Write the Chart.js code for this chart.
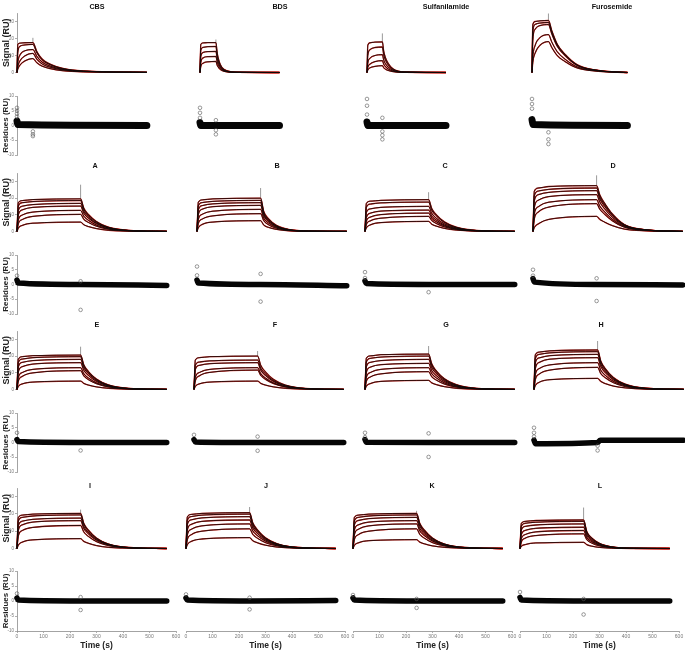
<!DOCTYPE html>
<html>
<head>
<meta charset="utf-8">
<script src="https://cdn.jsdelivr.net/npm/chart.js@4.4.0/dist/chart.umd.min.js"></script>
<style>
  html, body { margin: 0; padding: 0; background: #fff; }
  body { width: 685px; height: 651px; overflow: hidden; position: relative; font-family: "Liberation Sans", Arial, sans-serif; }
  .box { position: absolute; }
  .lbl { position: absolute; transform: translate(-50%, -50%); font-weight: bold; font-size: 7.2px; color: #111; white-space: nowrap; line-height: 1; }
</style>
</head>
<body>
<script>
// ---- data ----

const panelTitles = [`CBS`, `BDS`, `Sulfanilamide`, `Furosemide`, `A`, `B`, `C`, `D`, `E`, `F`, `G`, `H`, `I`, `J`, `K`, `L`];
const signalTicks = [0, 10, 20, 30];
const residueTicks = [-10, -5, 0, 5, 10];
const timeTicks = [0, 100, 200, 300, 400, 500, 600];

// time knots (s) of the sensorgrams
const tCBS = [0, 3, 12, 30, 60, 75, 95, 125, 170, 250, 490];
const tBDS = [0, 3, 12, 30, 60, 65, 72, 82, 100, 140, 300];
const tSulf = [0, 3, 12, 30, 58, 63, 70, 80, 98, 140, 298];
const tFuro = [0, 3, 12, 30, 62, 75, 95, 125, 170, 250, 360];
const tLong = [0, 5, 20, 60, 240, 252, 270, 300, 345, 420, 565];

// signal (RU), one row per concentration
const sigCBS = [
  [0, 16.5, 17.3, 17.5, 17.6, 12.3, 7.9, 4.9, 2.5, 0.9, 0.1],
  [0, 12, 15.5, 16.2, 16.5, 11.6, 7.4, 4.6, 2.3, 0.8, 0.1],
  [0, 6, 10.5, 12.8, 13.5, 9.5, 6.1, 3.8, 1.9, 0.7, 0.1],
  [0, 3.5, 7, 9.8, 11.2, 7.8, 5.0, 3.1, 1.6, 0.6, 0.1],
  [0, 2, 4.5, 6.8, 8.2, 5.7, 3.7, 2.3, 1.1, 0.4, 0.1],
];
const sigBDS = [
  [0, 16.5, 17.4, 17.6, 17.6, 11.4, 6.7, 3.2, 1.1, 0.2, 0],
  [0, 13, 14.8, 15.2, 15.3, 9.9, 5.8, 2.8, 0.9, 0.2, 0],
  [0, 9.5, 11.8, 12.3, 12.4, 8.1, 4.7, 2.2, 0.7, 0.1, 0],
  [0, 6, 8.6, 9.3, 9.4, 6.1, 3.6, 1.7, 0.6, 0.1, 0],
  [0, 3.5, 5.5, 6.3, 6.5, 4.2, 2.5, 1.2, 0.4, 0.1, 0],
];
const sigSulf = [
  [0, 16, 17.5, 17.9, 18, 12.6, 8.6, 5.4, 2.2, 0.4, 0],
  [0, 10, 13.5, 14.7, 15, 10.5, 7.2, 4.5, 1.8, 0.3, 0],
  [0, 5.5, 8.5, 10, 10.5, 7.4, 5.0, 3.2, 1.3, 0.2, 0],
  [0, 3, 5, 6.4, 7, 4.9, 3.4, 2.1, 0.8, 0.1, 0],
  [0, 1.5, 2.8, 3.6, 4, 2.8, 1.9, 1.2, 0.5, 0.1, 0],
];
const sigFuro = [
  [0, 28, 30, 30.4, 30.6, 24.5, 16.8, 10.7, 4.6, 1.2, 0],
  [0, 24, 28.3, 29.1, 29.4, 23.5, 16.2, 10.3, 4.4, 1.2, 0],
  [0, 19, 25.5, 27.6, 28.2, 22.6, 15.5, 9.9, 4.2, 1.1, 0],
  [0, 9, 16, 20.5, 22.3, 17.8, 12.3, 7.8, 3.3, 0.9, 0],
  [0, 6, 11.5, 16, 18.2, 14.6, 10.0, 6.4, 2.7, 0.7, 0],
];
const sigA = [
  [0, 17.2, 18.5, 19.1, 19.5, 14.0, 10.1, 5.9, 2.5, 0.6, 0],
  [0, 15.2, 17.2, 17.9, 18.5, 13.3, 9.6, 5.6, 2.4, 0.6, 0],
  [0, 12.6, 15.1, 16.1, 16.8, 12.1, 8.7, 5.0, 2.2, 0.5, 0],
  [0, 9.9, 12.9, 14.4, 15.2, 10.9, 7.9, 4.6, 2.0, 0.5, 0],
  [0, 6.9, 9.8, 11.6, 12.6, 9.1, 6.6, 3.8, 1.6, 0.4, 0],
  [0, 4.6, 7.1, 9.0, 10.2, 7.3, 5.3, 3.1, 1.3, 0.3, 0],
  [0, 2.0, 3.6, 4.9, 5.6, 4.0, 2.9, 1.7, 0.7, 0.2, 0],
];
const sigB = [
  [0, 17.5, 18.9, 19.5, 19.9, 11.9, 7.6, 3.6, 1.2, 0.2, 0],
  [0, 15.3, 17.3, 18.0, 18.6, 11.2, 7.1, 3.3, 1.1, 0.2, 0],
  [0, 12.9, 15.5, 16.5, 17.2, 10.3, 6.5, 3.1, 1.0, 0.2, 0],
  [0, 10.1, 13.3, 14.8, 15.6, 9.4, 5.9, 2.8, 0.9, 0.2, 0],
  [0, 7.3, 10.3, 12.1, 13.2, 7.9, 5.0, 2.4, 0.8, 0.1, 0],
  [0, 4.8, 7.4, 9.3, 10.6, 6.4, 4.0, 1.9, 0.6, 0.1, 0],
  [0, 2.2, 4.2, 5.6, 6.4, 3.8, 2.4, 1.2, 0.4, 0.1, 0],
];
const sigC = [
  [0, 16.7, 18.1, 18.6, 19.0, 13.7, 9.9, 5.7, 2.5, 0.6, 0],
  [0, 14.4, 16.4, 17.1, 17.6, 12.7, 9.2, 5.3, 2.3, 0.5, 0],
  [0, 11.3, 13.5, 14.4, 15.0, 10.8, 7.8, 4.5, 2.0, 0.5, 0],
  [0, 8.3, 10.9, 12.2, 12.8, 9.2, 6.7, 3.8, 1.7, 0.4, 0],
  [0, 6.1, 8.6, 10.1, 11.0, 7.9, 5.7, 3.3, 1.4, 0.3, 0],
  [0, 4.1, 6.3, 7.9, 9.0, 6.5, 4.7, 2.7, 1.2, 0.3, 0],
  [0, 2.1, 3.9, 5.3, 6.0, 4.3, 3.1, 1.8, 0.8, 0.2, 0],
];
const sigD = [
  [0, 24.1, 26.0, 26.9, 27.4, 21.9, 17.0, 10.4, 4.1, 1.1, 0],
  [0, 21.3, 24.2, 25.2, 26.0, 20.8, 16.1, 9.9, 3.9, 1.0, 0],
  [0, 18.3, 22.0, 23.4, 24.4, 19.5, 15.1, 9.3, 3.7, 1.0, 0],
  [0, 14.3, 18.7, 20.9, 22.0, 17.6, 13.6, 8.4, 3.3, 0.9, 0],
  [0, 10.5, 14.8, 17.5, 19.0, 15.2, 11.8, 7.2, 2.9, 0.8, 0],
  [0, 7.5, 11.6, 14.6, 16.6, 13.3, 10.3, 6.3, 2.5, 0.7, 0],
  [0, 2.3, 4.5, 7.2, 9.0, 7.2, 5.6, 3.4, 1.4, 0.4, 0],
];
const sigE = [
  [0, 18.1, 19.6, 20.2, 20.6, 14.8, 10.7, 6.2, 2.7, 0.6, 0],
  [0, 16.1, 18.2, 19.0, 19.6, 14.1, 10.2, 5.9, 2.5, 0.6, 0],
  [0, 13.5, 16.2, 17.3, 18.0, 13.0, 9.4, 5.4, 2.3, 0.5, 0],
  [0, 10.4, 13.6, 15.2, 16.0, 11.5, 8.3, 4.8, 2.1, 0.5, 0],
  [0, 7.2, 10.1, 12.0, 13.0, 9.4, 6.8, 3.9, 1.7, 0.4, 0],
  [0, 5.0, 7.8, 9.9, 11.2, 8.1, 5.8, 3.4, 1.5, 0.3, 0],
  [0, 1.8, 3.3, 4.4, 5.0, 3.6, 2.6, 1.5, 0.7, 0.2, 0],
];
const sigF = [
  [0, 17.6, 19.0, 19.6, 20.0, 14.4, 10.4, 6.0, 2.6, 0.6, 0],
  [0, 14.4, 16.4, 17.1, 17.6, 12.7, 9.2, 5.3, 2.3, 0.5, 0],
  [0, 12.0, 14.4, 15.4, 16.0, 11.5, 8.3, 4.8, 2.1, 0.5, 0],
  [0, 7.2, 10.1, 12.0, 13.0, 9.4, 6.8, 3.9, 1.7, 0.4, 0],
  [0, 5.2, 8.1, 10.2, 11.6, 8.4, 6.0, 3.5, 1.5, 0.3, 0],
  [0, 1.8, 3.3, 4.4, 5.0, 3.6, 2.6, 1.5, 0.7, 0.2, 0],
];
const sigG = [
  [0, 18.7, 20.1, 20.8, 21.2, 15.3, 11.0, 6.4, 2.8, 0.6, 0],
  [0, 16.4, 18.6, 19.4, 20.0, 14.4, 10.4, 6.0, 2.6, 0.6, 0],
  [0, 13.5, 16.2, 17.3, 18.0, 13.0, 9.4, 5.4, 2.3, 0.5, 0],
  [0, 10.1, 13.3, 14.8, 15.6, 11.2, 8.1, 4.7, 2.0, 0.5, 0],
  [0, 7.2, 10.1, 12.0, 13.0, 9.4, 6.8, 3.9, 1.7, 0.4, 0],
  [0, 4.8, 7.4, 9.3, 10.6, 7.6, 5.5, 3.2, 1.4, 0.3, 0],
  [0, 1.9, 3.5, 4.8, 5.4, 3.9, 2.8, 1.6, 0.7, 0.2, 0],
];
const sigH = [
  [0, 20.8, 22.4, 23.1, 23.6, 17.0, 12.3, 7.1, 3.1, 0.7, 0],
  [0, 18.5, 21.0, 21.9, 22.6, 16.3, 11.8, 6.8, 2.9, 0.7, 0],
  [0, 15.8, 18.9, 20.2, 21.0, 15.1, 10.9, 6.3, 2.7, 0.6, 0],
  [0, 12.4, 16.2, 18.1, 19.0, 13.7, 9.9, 5.7, 2.5, 0.6, 0],
  [0, 8.8, 12.5, 14.7, 16.0, 11.5, 8.3, 4.8, 2.1, 0.5, 0],
  [0, 5.9, 9.2, 11.6, 13.2, 9.5, 6.9, 4.0, 1.7, 0.4, 0],
  [0, 2.3, 4.3, 5.8, 6.6, 4.8, 3.4, 2.0, 0.9, 0.2, 0],
];
const sigI = [
  [0, 17.9, 19.3, 19.9, 20.3, 14.6, 10.6, 6.1, 2.6, 0.6, 0],
  [0, 15.9, 18.0, 18.8, 19.4, 14.0, 10.1, 5.8, 2.5, 0.6, 0],
  [0, 13.2, 15.8, 16.9, 17.6, 12.7, 9.2, 5.3, 2.3, 0.5, 0],
  [0, 10.5, 13.7, 15.3, 16.1, 11.6, 8.4, 4.8, 2.1, 0.5, 0],
  [0, 7.3, 10.4, 12.2, 13.3, 9.6, 6.9, 4.0, 1.7, 0.4, 0],
  [0, 2.0, 3.7, 5.0, 5.7, 4.1, 3.0, 1.7, 0.7, 0.2, 0],
];
const sigJ = [
  [0, 18.2, 19.7, 20.3, 20.7, 14.9, 10.8, 6.2, 2.7, 0.6, 0],
  [0, 16.3, 18.5, 19.3, 19.9, 14.3, 10.3, 6.0, 2.6, 0.6, 0],
  [0, 13.8, 16.6, 17.7, 18.4, 13.2, 9.6, 5.5, 2.4, 0.6, 0],
  [0, 10.7, 14.0, 15.7, 16.5, 11.9, 8.6, 5.0, 2.1, 0.5, 0],
  [0, 7.8, 11.1, 13.1, 14.2, 10.2, 7.4, 4.3, 1.8, 0.4, 0],
  [0, 5.1, 8.0, 10.0, 11.4, 8.2, 5.9, 3.4, 1.5, 0.3, 0],
  [0, 2.2, 4.1, 5.5, 6.3, 4.5, 3.3, 1.9, 0.8, 0.2, 0],
];
const sigK = [
  [0, 17.9, 19.3, 19.9, 20.3, 14.6, 10.6, 6.1, 2.6, 0.6, 0],
  [0, 15.9, 18.0, 18.8, 19.4, 14.0, 10.1, 5.8, 2.5, 0.6, 0],
  [0, 13.5, 16.2, 17.3, 18.0, 13.0, 9.4, 5.4, 2.3, 0.5, 0],
  [0, 10.5, 13.7, 15.3, 16.1, 11.6, 8.4, 4.8, 2.1, 0.5, 0],
  [0, 7.8, 11.1, 13.1, 14.2, 10.2, 7.4, 4.3, 1.8, 0.4, 0],
  [0, 5.1, 8.0, 10.0, 11.4, 8.2, 5.9, 3.4, 1.5, 0.3, 0],
  [0, 1.8, 3.3, 4.5, 5.1, 3.7, 2.7, 1.5, 0.7, 0.2, 0],
];
const sigL = [
  [0, 14.5, 15.7, 16.2, 16.5, 9.9, 6.3, 3.0, 1.0, 0.2, 0],
  [0, 12.9, 14.6, 15.2, 15.7, 9.4, 6.0, 2.8, 0.9, 0.2, 0],
  [0, 10.7, 12.8, 13.6, 14.2, 8.5, 5.4, 2.6, 0.9, 0.1, 0],
  [0, 8.0, 10.5, 11.7, 12.3, 7.4, 4.7, 2.2, 0.7, 0.1, 0],
  [0, 5.7, 8.1, 9.6, 10.4, 6.2, 4.0, 1.9, 0.6, 0.1, 0],
  [0, 3.8, 6.0, 7.5, 8.5, 5.1, 3.2, 1.5, 0.5, 0.1, 0],
  [0, 1.3, 2.3, 3.2, 3.6, 2.2, 1.4, 0.6, 0.2, 0, 0],
];

// injection-end spike: [time, from RU, to RU]
const spikes = [
  [60, 17.6, 20.4], [60, 17.6, 19.4], [58, 18, 23], [62, 30.6, 34.7],
  [240, 19.5, 28], [240, 19.9, 26], [240, 19, 23.5], [240, 27.4, 33.6],
  [240, 20.6, 25.6], [240, 20, 23], [240, 21.2, 26], [240, 23.6, 29],
  [240, 20.3, 22.5], [240, 20.7, 24], [240, 20.3, 21.8], [240, 16.5, 23.7],
];

// residue band (dense points around zero): [time, RU]
const bandCBS = [[0, 1.5], [3, 0.3], [490, 0]];
const bandBDS = [[0, 1], [3, 0], [300, 0]];
const bandSulf = [[0, 1.2], [3, 0], [298, 0]];
const bandFuro = [[0, 2], [4, 0.3], [360, 0]];
const bandA = [[0, 1.5], [5, 0.5], [240, 0], [565, -0.3]];
const bandB = [[0, 1.5], [5, 0.5], [240, 0], [565, -0.4]];
const bandC = [[0, 1.2], [5, 0.3], [240, 0], [565, 0]];
const bandD = [[0, 2], [6, 0.8], [240, 0], [565, -0.2]];
const bandE = [[0, 1], [5, 0.3], [240, 0], [565, 0]];
const bandF = [[0, 1], [5, 0.2], [240, 0], [565, 0]];
const bandG = [[0, 1], [5, 0.1], [240, 0], [565, 0]];
const bandH = [[0, 0.8], [6, -0.4], [240, 0], [250, 0.8], [565, 0.8]];
const bandI = [[0, 1], [5, 0.3], [240, 0], [565, 0]];
const bandJ = [[0, 1], [5, 0.3], [240, 0], [565, 0.2]];
const bandK = [[0, 1], [5, 0.3], [240, 0], [565, 0]];
const bandL = [[0, 1.2], [5, 0.3], [240, 0], [565, 0]];

// residue outliers: [time, RU]
const outCBS = [[0, 6], [0, 5], [0, 4], [0, 3], [60, -2], [60, -3], [60, -3.6]];
const outBDS = [[0, 6], [0, 4.3], [0, 2.6], [60, 1.8], [60, -1.6], [60, -3]];
const outSulf = [[0, 9], [0, 6.7], [0, 3.7], [58, 2.6], [58, -2], [58, -3.3], [58, -4.7]];
const outFuro = [[0, 9], [0, 7.3], [0, 5.7], [62, -2.3], [62, -4.7], [62, -6.3]];
const outA = [[0, 3], [240, 1.1], [240, -8.6]];
const outB = [[0, 6.1], [0, 3.1], [240, 3.6], [240, -5.8]];
const outC = [[0, 4.2], [0, 2.2], [240, -2.6]];
const outD = [[0, 5], [0, 3], [240, 2.1], [240, -5.6]];
const outE = [[0, 3.3], [240, -2.7]];
const outF = [[0, 2.6], [240, 2], [240, -2.8]];
const outG = [[0, 3.3], [0, 1.8], [240, 3.1], [240, -4.9]];
const outH = [[0, 5], [0, 3.3], [0, 2], [240, -1.1], [240, -2.7]];
const outI = [[0, 2.5], [240, 1.3], [240, -3]];
const outJ = [[0, 2.2], [240, 1.1], [240, -2.8]];
const outK = [[0, 2], [240, 0.7], [240, -2.3]];
const outL = [[0, 3], [240, 0.7], [240, -4.5]];

const panelTimes = [tCBS, tBDS, tSulf, tFuro, tLong, tLong, tLong, tLong, tLong, tLong, tLong, tLong, tLong, tLong, tLong, tLong];
const panelSignals = [sigCBS, sigBDS, sigSulf, sigFuro, sigA, sigB, sigC, sigD, sigE, sigF, sigG, sigH, sigI, sigJ, sigK, sigL];
const panelBands = [bandCBS, bandBDS, bandSulf, bandFuro, bandA, bandB, bandC, bandD, bandE, bandF, bandG, bandH, bandI, bandJ, bandK, bandL];
const panelOutliers = [outCBS, outBDS, outSulf, outFuro, outA, outB, outC, outD, outE, outF, outG, outH, outI, outJ, outK, outL];

// ---- layout (pixels) ----

const plotW = 159; // 0..600 s
const colStart = [[17, 200, 367, 532], [17, 197, 365, 533], [17, 194, 365, 534], [17, 186, 353, 520]];
const sigTop = [12.5, 172.6, 330.6, 487.5];
const sigBottom = [72, 231, 389, 548];
const resTop = [96, 255, 413, 571];
const resBottom = [155, 314, 472, 631];
const titlePos = [
  [97, 7], [280, 7], [446, 7], [612, 7],
  [95, 166], [277, 166], [445, 166], [613, 166],
  [97, 325], [275, 325], [446, 325], [601, 325],
  [90, 486], [266, 486], [432, 486], [600, 486],
];

const fontFamily = `"Liberation Sans", Arial, sans-serif`;
Chart.defaults.font.family = fontFamily;
const axisGrey = `#8c8c8c`;

function makeChart(left, top, bottom, withY, withX, yMin, yMax, yTicks, yTitle, yTitleSize, datasets) {
  const padL = withY ? 17 : 6;
  const padR = 8;
  const padT = 6;
  const padB = withX ? 20 : 6;
  const areaH = bottom - top;
  const w = plotW + padL + padR;
  const h = Math.ceil(areaH) + padT + padB;

  const box = document.createElement(`div`);
  box.className = `box`;
  box.style.left = (left - padL) + `px`;
  box.style.top = Math.round(top - padT) + `px`;
  const canvas = document.createElement(`canvas`);
  canvas.width = w;
  canvas.height = h;
  canvas.style.width = w + `px`;
  canvas.style.height = h + `px`;
  box.appendChild(canvas);
  document.body.appendChild(box);

  const bottomPad = withX ? 0 : h - padT - areaH;

  new Chart(canvas, {
    type: `scatter`,
    data: { datasets },
    options: {
      responsive: false,
      animation: false,
      devicePixelRatio: 1,
      layout: { padding: { left: withY ? 0 : padL, right: padR, top: padT, bottom: bottomPad } },
      plugins: { legend: { display: false }, tooltip: { enabled: false } },
      scales: {
        x: {
          type: `linear`,
          min: 0,
          max: 600,
          display: withX,
          afterBuildTicks: (axis) => { axis.ticks = timeTicks.map((v) => ({ value: v })); },
          afterFit: (axis) => { if (withX) axis.height = h - padT - areaH; },
          grid: { drawOnChartArea: false, tickLength: 2, color: axisGrey, lineWidth: 0.7 },
          border: { color: axisGrey, width: 0.8 },
          ticks: { font: { size: 5 }, color: `#777`, padding: 1, maxRotation: 0, autoSkip: false },
          title: { display: true, text: `Time (s)`, font: { size: 8.5, weight: `bold` }, color: `#222`, padding: 0 },
        },
        y: {
          type: `linear`,
          min: yMin,
          max: yMax,
          display: withY,
          afterBuildTicks: (axis) => { axis.ticks = yTicks.map((v) => ({ value: v })); },
          afterFit: (axis) => { if (withY) axis.width = 17; },
          grid: { drawOnChartArea: false, tickLength: 2, color: axisGrey, lineWidth: 0.7 },
          border: { color: axisGrey, width: 0.8 },
          ticks: { font: { size: 4.5 }, color: `#777`, padding: 1 },
          title: { display: true, text: yTitle, font: { size: yTitleSize, weight: `bold` }, color: `#222`, padding: { top: 1, bottom: 0 } },
        },
      },
    },
  });
}

const lineBase = { showLine: true, pointRadius: 0, cubicInterpolationMode: `monotone`, clip: false, fill: false };

for (let i = 0; i < 16; i++) {
  const row = Math.floor(i / 4);
  const col = i % 4;
  const left = colStart[row][col];
  const times = panelTimes[i];

  // signal: black data over red fit
  const sigSets = [];
  panelSignals[i].forEach((curve) => {
    sigSets.push({ ...lineBase, data: curve.map((v, k) => ({ x: times[k], y: v })), borderColor: `rgba(15,8,8,0.92)`, borderWidth: 0.9, order: 1 });
    sigSets.push({ ...lineBase, data: curve.map((v, k) => ({ x: times[k], y: v })), borderColor: `#cc2119`, borderWidth: 1.3, order: 2 });
  });
  const sp = spikes[i];
  sigSets.push({ showLine: true, pointRadius: 0, clip: false, data: [{ x: sp[0], y: sp[1] }, { x: sp[0], y: sp[2] }], borderColor: `#9a9a9a`, borderWidth: 1, order: 3 });
  makeChart(left, sigTop[row], sigBottom[row], col === 0, false, 0, 35, signalTicks, `Signal (RU)`, 9, sigSets);

  // residues
  const resSets = [];
  resSets.push({ ...lineBase, data: panelBands[i].map((p) => ({ x: p[0], y: p[1] })), borderColor: `#050505`, borderWidth: row === 0 ? 7 : 5.5, borderCapStyle: `round`, order: 2 });
  resSets.push({
    showLine: false, clip: false, data: panelOutliers[i].map((p) => ({ x: p[0], y: p[1] })),
    pointStyle: `circle`, pointRadius: 1.8, pointBorderWidth: 0.6, pointBorderColor: `#555`, pointBackgroundColor: `rgba(0,0,0,0)`, order: 1,
  });
  makeChart(left, resTop[row], resBottom[row], col === 0, row === 3, -10, 10, residueTicks, `Residues (RU)`, 8, resSets);

  // panel label
  const lbl = document.createElement(`div`);
  lbl.className = `lbl`;
  lbl.style.left = titlePos[i][0] + `px`;
  lbl.style.top = titlePos[i][1] + `px`;
  lbl.textContent = panelTitles[i];
  document.body.appendChild(lbl);
}
</script>
</body>
</html>
